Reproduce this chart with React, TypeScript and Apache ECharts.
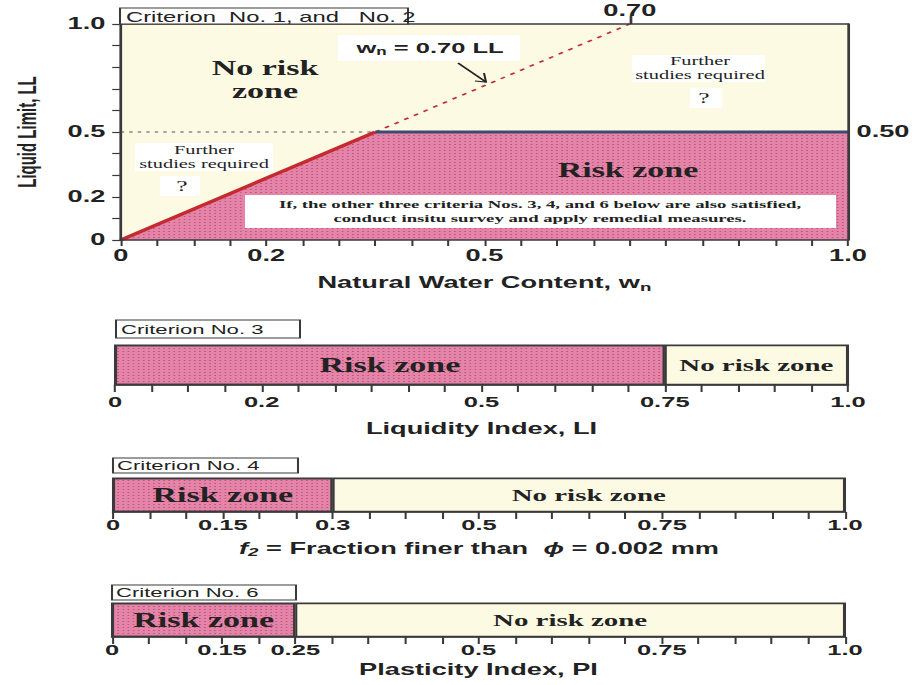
import React, { useEffect, useRef } from "react";
import * as echarts from "echarts";

// The reference is a horizontally stretched slide: the chart is drawn at a
// narrower width and stretched horizontally by S with a CSS transform.
const PAGE_W = 915;
const PAGE_H = 685;
const CHART_W = 538;
const S = PAGE_W / CHART_W;
const X = (px: number) => px / S;

// ---- data ----
const wnBoundary = [0, 0.35, 1.0];
const llBoundary = [0, 0.5, 0.5];
const wnRatioLine = [0.35, 0.7];
const llRatioLine = [0.5, 1.0];
const llThreshold = 0.5;
const wnMarker = 0.7;
const mainXTicks = [0, 0.2, 0.5, 1.0];
const mainYTicks = [0, 0.2, 0.5, 1.0];

const liRiskMax = 0.75;
const liTicks = [0, 0.2, 0.5, 0.75, 1.0];
const f2RiskMax = 0.3;
const f2Ticks = [0, 0.15, 0.3, 0.5, 0.75, 1.0];
const piRiskMax = 0.25;
const piTicks = [0, 0.15, 0.25, 0.5, 0.75, 1.0];

// ---- styles ----
const PINK = "#e484a8";
const YELLOW = "#fcfae3";
const INK = "#222222";
const FRAME = "#3a3a3a";
const SANS = '"Liberation Sans", Arial, sans-serif';
const SERIF = '"Liberation Serif", "Times New Roman", serif';
const DOTS = {
  symbol: "rect",
  symbolSize: 1,
  dashArrayX: [1, 2],
  dashArrayY: [1, 2],
  color: "rgba(150, 30, 70, 0.45)",
};

const fmt = (v: number) => {
  if (Math.abs(v - 1) < 1e-9) return "1.0";
  if (Math.abs(v) < 1e-9) return "0";
  return String(Math.round(v * 100) / 100);
};

const tickLabel = (size: number, margin: number, values: number[]) => ({
  customValues: values,
  formatter: (v: number) => fmt(v),
  fontFamily: SANS,
  fontWeight: "bold",
  fontSize: size,
  color: INK,
  margin,
});

const pairs = (xs: number[], ys: number[]) => xs.map((x, i) => [x, ys[i]]);

function text(
  x: number,
  y: number,
  t: string,
  font: { size: number; family: string; weight?: string },
  align: string = "center"
) {
  return {
    type: "text",
    x,
    y,
    z: 50,
    silent: true,
    style: {
      text: t,
      fill: INK,
      fontSize: font.size,
      fontFamily: font.family,
      fontWeight: font.weight || "normal",
      align,
      verticalAlign: "middle",
      textAlign: align,
      textVerticalAlign: "middle",
      lineHeight: Math.round(font.size * 1.15),
    },
  };
}

function box(x: number, y: number, w: number, h: number, stroke?: boolean) {
  return {
    type: "rect",
    z: 40,
    silent: true,
    shape: { x, y, width: w, height: h },
    style: stroke
      ? { fill: "#ffffff", stroke: FRAME, lineWidth: 1.2 }
      : { fill: "#ffffff" },
  };
}

export default function App() {
  const ref = useRef<HTMLDivElement | null>(null);

  useEffect(() => {
    if (!ref.current) return;
    const chart = echarts.init(ref.current, undefined, { renderer: "svg" });

    const small = [
      {
        left: X(115), width: X(733), top: 345, height: 40,
        risk: liRiskMax, ticks: liTicks, margin: 9,
        name: "Liquidity Index, LI", nameGap: 36, riskSize: 20, noSize: 17,
      },
      {
        left: X(113), width: X(732), top: 478, height: 34,
        risk: f2RiskMax, ticks: f2Ticks, margin: 5,
        name: "{it|f}{itsub|2} = Fraction finer than  {it|ϕ} = 0.002 mm",
        nameGap: 28, riskSize: 20, noSize: 17,
      },
      {
        left: X(112), width: X(733), top: 603, height: 34,
        risk: piRiskMax, ticks: piTicks, margin: 5,
        name: "Plasticity Index, PI", nameGap: 25, riskSize: 20, noSize: 17,
      },
    ];

    const grids: any[] = [
      {
        left: X(120), width: X(728), top: 24, height: 216,
        show: true, backgroundColor: YELLOW, borderWidth: 0,
      },
      ...small.map((s) => ({
        left: s.left, width: s.width, top: s.top, height: s.height,
        show: true, backgroundColor: YELLOW, borderColor: FRAME, borderWidth: 1.2,
      })),
    ];

    const axisLine = { show: true, lineStyle: { color: FRAME, width: 1.6 } };
    const axisLineFree = { show: true, onZero: false, lineStyle: { color: FRAME, width: 1.6 } };

    // axis index 0 = main bottom, 1 = main top, 2.. = small charts
    const xAxes: any[] = [
      {
        gridIndex: 0, type: "value", min: 0, max: 1, interval: 0.05, z: 10,
        axisLine, splitLine: { show: false },
        axisTick: { show: true, length: 6, lineStyle: { color: FRAME, width: 1.2 } },
        axisLabel: tickLabel(16, 8, mainXTicks),
        name: "Natural Water Content, w{sub|n}",
        nameLocation: "middle", nameGap: 33,
        nameTextStyle: {
          fontFamily: SANS, fontWeight: "bold", fontSize: 16, color: INK,
          rich: {
            sub: { fontFamily: SANS, fontWeight: "bold", fontSize: 11, color: INK, padding: [9, 0, 0, 0] },
          },
        },
      },
      {
        gridIndex: 0, type: "value", position: "top", min: 0, max: 1, z: 10,
        axisLine: axisLineFree, splitLine: { show: false },
        axisTick: { show: true, length: 8, customValues: [wnMarker], lineStyle: { color: FRAME, width: 1.6 } },
        axisLabel: {
          customValues: [wnMarker], formatter: (v: number) => v.toFixed(2),
          fontFamily: SANS, fontWeight: "bold", fontSize: 16, color: INK, margin: 5,
        },
      },
      ...small.map((s, i) => ({
        gridIndex: i + 1, type: "value", min: 0, max: 1, interval: 0.05, z: 10,
        axisLine, splitLine: { show: false },
        axisTick: { show: true, length: 7, lineStyle: { color: FRAME, width: 1.2 } },
        axisLabel: tickLabel(15, s.margin, s.ticks),
        name: s.name, nameLocation: "middle", nameGap: s.nameGap,
        nameTextStyle: {
          fontFamily: SANS, fontWeight: "bold", fontSize: 16, color: INK,
          rich: {
            it: { fontFamily: SANS, fontWeight: "bold", fontStyle: "italic", fontSize: 16, color: INK },
            itsub: { fontFamily: SANS, fontWeight: "bold", fontStyle: "italic", fontSize: 11, color: INK, padding: [7, 0, 0, 0] },
          },
        },
      })),
    ];

    const yAxes: any[] = [
      {
        gridIndex: 0, type: "value", min: 0, max: 1, interval: 0.1, z: 10,
        axisLine, splitLine: { show: false },
        axisTick: { show: true, length: 5, lineStyle: { color: FRAME, width: 1.2 } },
        axisLabel: tickLabel(16, 9, mainYTicks),
        name: "Liquid Limit, LL", nameLocation: "middle", nameRotate: 90, nameGap: 48,
        nameTextStyle: { fontFamily: SANS, fontWeight: "bold", fontSize: 15, color: INK },
      },
      {
        gridIndex: 0, type: "value", position: "right", min: 0, max: 1, z: 10,
        axisLine: axisLineFree, splitLine: { show: false },
        axisTick: { show: false },
        axisLabel: {
          customValues: [llThreshold], formatter: (v: number) => v.toFixed(2),
          fontFamily: SANS, fontWeight: "bold", fontSize: 16, color: INK, margin: 5,
        },
      },
      ...small.map((_, i) => ({
        gridIndex: i + 1, type: "category", data: ["zone"], show: false,
      })),
    ];

    const series: any[] = [
      {
        type: "line", xAxisIndex: 0, yAxisIndex: 0, z: 1, silent: true,
        data: pairs(wnBoundary, llBoundary), symbol: "none",
        itemStyle: { color: PINK, decal: DOTS },
        lineStyle: { width: 0 }, areaStyle: { color: PINK, opacity: 1 },
      },
      {
        type: "line", xAxisIndex: 0, yAxisIndex: 0, z: 3, silent: true,
        data: [[0, llThreshold], [wnBoundary[1], llThreshold]], symbol: "none",
        lineStyle: { color: "#555", width: 1, type: [2, 3] },
      },
      {
        type: "line", xAxisIndex: 0, yAxisIndex: 0, z: 4, silent: true,
        data: pairs(wnRatioLine, llRatioLine), symbol: "none",
        lineStyle: { color: "#c0303a", width: 1.5, type: [3, 4] },
      },
      {
        type: "line", xAxisIndex: 0, yAxisIndex: 0, z: 5, silent: true,
        data: pairs(wnBoundary.slice(0, 2), llBoundary.slice(0, 2)), symbol: "none",
        lineStyle: { color: "#c42a2f", width: 3 },
      },
      {
        type: "line", xAxisIndex: 0, yAxisIndex: 0, z: 5, silent: true,
        data: pairs(wnBoundary.slice(1), llBoundary.slice(1)), symbol: "none",
        lineStyle: { color: "#3d4a78", width: 3 },
      },
      ...small.flatMap((s, i) => [
        {
          type: "bar", xAxisIndex: i + 2, yAxisIndex: i + 2, stack: "s" + i,
          barWidth: "100%", silent: true, z: 2,
          data: [s.risk],
          itemStyle: { color: PINK, borderColor: FRAME, borderWidth: 1.2, decal: DOTS },
          label: {
            show: true, position: "inside", formatter: "Risk zone",
            fontFamily: SERIF, fontWeight: "bold", fontSize: s.riskSize, color: INK,
          },
        },
        {
          type: "bar", xAxisIndex: i + 2, yAxisIndex: i + 2, stack: "s" + i,
          barWidth: "100%", silent: true, z: 2,
          data: [1 - s.risk],
          itemStyle: { color: YELLOW, borderColor: FRAME, borderWidth: 1.2 },
          label: {
            show: true, position: "inside", formatter: "No risk zone",
            fontFamily: SERIF, fontWeight: "bold", fontSize: s.noSize, color: INK,
          },
        },
      ]),
    ];

    const serifBold = (size: number) => ({ size, family: SERIF, weight: "bold" });
    const serif = (size: number) => ({ size, family: SERIF });
    const sans = (size: number, weight?: string) => ({ size, family: SANS, weight });

    const graphic: any[] = [
      // criterion labels
      box(X(120), 8, X(288), 16, true),
      text(X(126), 16.5, "Criterion  No. 1, and   No. 2", sans(14), "left"),
      box(X(116), 320, X(184), 18, true),
      text(X(121), 329.5, "Criterion No. 3", sans(13), "left"),
      box(X(113), 458, X(185), 15, true),
      text(X(117), 466, "Criterion No. 4", sans(13), "left"),
      box(X(112), 585, X(184), 15, true),
      text(X(116), 593, "Criterion No. 6", sans(13), "left"),
      // main chart annotations
      text(X(265), 68, "No risk", serifBold(20)),
      text(X(265), 91, "zone", serifBold(20)),
      box(X(338), 35, X(182), 26),
      {
        type: "text", x: X(430), y: 48, z: 50, silent: true,
        style: {
          rich: {
            b: { fontFamily: SANS, fontWeight: "bold", fontSize: 15, fill: INK },
            s: { fontFamily: SANS, fontWeight: "bold", fontSize: 10, fill: INK, padding: [7, 0, 0, 0] },
          },
          text: "{b|w}{s|n}{b| = 0.70 LL}",
          align: "center", verticalAlign: "middle",
          textAlign: "center", textVerticalAlign: "middle",
        },
      },
      {
        type: "line", z: 50, silent: true,
        shape: { x1: X(458), y1: 63, x2: X(486), y2: 82 },
        style: { stroke: INK, lineWidth: 1.2 },
      },
      {
        type: "polyline", z: 50, silent: true,
        shape: { points: [[X(475), 81], [X(486), 82], [X(484), 73]] },
        style: { stroke: INK, lineWidth: 1.2, fill: "none" },
      },
      box(X(135), 143, X(138), 28),
      text(X(204), 157, "Further\nstudies required", serif(12)),
      box(X(160), 176, X(40), 20),
      text(X(182), 186, "?", serif(15)),
      box(X(632), 55, X(133), 27),
      text(X(700), 68, "Further\nstudies required", serif(12)),
      box(X(690), 88, X(32), 20),
      text(X(704), 98, "?", serif(15)),
      text(X(628), 170, "Risk zone", serifBold(20)),
      box(X(245), 195, X(591), 33),
      text(X(540), 204.5, "If, the other three criteria Nos. 3, 4, and 6 below are also satisfied,", serifBold(11)),
      text(X(540), 218.5, "conduct insitu survey and apply remedial measures.", serifBold(11)),
    ];

    chart.setOption({
      animation: false,
      backgroundColor: "#ffffff",
      grid: grids,
      xAxis: xAxes,
      yAxis: yAxes,
      series,
      graphic,
    });

    return () => chart.dispose();
  }, []);

  return (
    <div
      ref={ref}
      style={{
        position: "absolute",
        left: 0,
        top: 0,
        width: CHART_W,
        height: PAGE_H,
        transform: `scaleX(${S})`,
        transformOrigin: "0 0",
      }}
    />
  );
}
